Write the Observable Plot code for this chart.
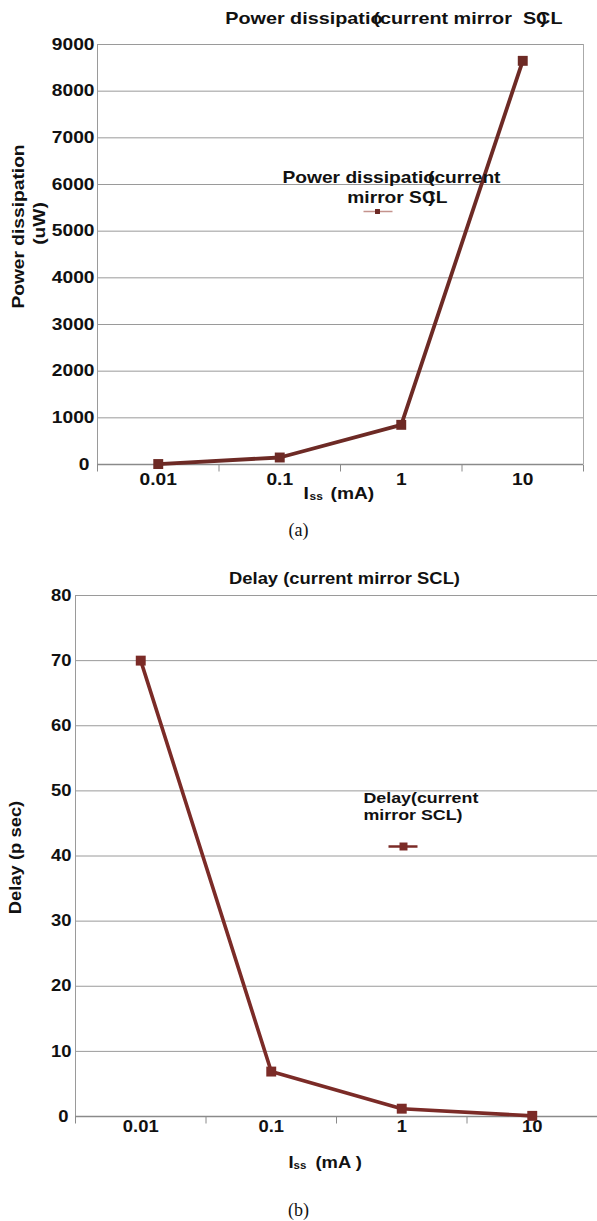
<!DOCTYPE html>
<html>
<head>
<meta charset="utf-8">
<script src="https://cdn.jsdelivr.net/npm/d3@7"></script>
<script src="https://cdn.jsdelivr.net/npm/@observablehq/plot@0.6"></script>
<style>
  html, body { margin: 0; padding: 0; background: #fff; }
  #page { position: relative; width: 597px; height: 1221px; overflow: hidden; background: #fff; }
  #page > * { position: absolute; left: 0; display: block; }
  .cap { width: 597px; height: 24px; line-height: 24px; text-align: center;
         font-family: "Liberation Serif", "Times New Roman", serif; font-size: 18px; color: #111; }
</style>
</head>
<body>
<div id="page"></div>
<script>
// Current-mirror SCL gate: power dissipation and delay versus tail current Iss.
const currents = [0.01, 0.1, 1, 10];              // Iss (mA)
const currentLabels = ["0.01", "0.1", "1", "10"];
const power = [10, 150, 850, 8650];                // power dissipation (uW)
const delay = [70, 6.9, 1.2, 0.1];                 // delay (ps)
const powerTicks = [0, 1000, 2000, 3000, 4000, 5000, 6000, 7000, 8000, 9000];
const delayTicks = [0, 10, 20, 30, 40, 50, 60, 70, 80];

// Each current value sits in the middle of its own decade-wide category slot.
const xDomain = [10 ** -2.5, 10 ** 1.5];
const slotEdges = [10 ** -2.5, 10 ** -1.5, 10 ** -0.5, 10 ** 0.5, 10 ** 1.5];

const powerRows = currents.map((c, i) => ({current: c, value: power[i]}));
const delayRows = currents.map((c, i) => ({current: c, value: delay[i]}));

// Custom dot symbols: a short downward tick and a legend dash.
const tickDown = {draw(ctx) { ctx.moveTo(0, 0); ctx.lineTo(0, 7); }};
const legendDash = {draw(ctx) { ctx.moveTo(-14.5, 0); ctx.lineTo(14.5, 0); }};

const INK = "#111";
const GRID = "#9a9a9a";

// Stretch all chart text horizontally about its anchor point.
function stretchText(svg, s) {
  d3.select(svg).selectAll("text").each(function () {
    const t = this.getAttribute("transform");
    if (t && t.includes("translate")) {
      this.setAttribute("transform", `${t} scale(${s},1)`);
    } else {
      const x = +this.getAttribute("x") || 0, y = +this.getAttribute("y") || 0;
      this.setAttribute("transform", `translate(${x},${y}) scale(${s},1) translate(${-x},${-y})`);
    }
  });
}

function chart(cfg) {
  const {top, width, height, ML, MR, MT, MB, rows, ticks, color, lineWidth, markerR} = cfg;
  const at = (x, y) => ({frameAnchor: "top-left", dx: x - ML, dy: y - top - MT});
  const T = (text, x, y, o = {}) =>
    Plot.text([text], {text: d => d, ...at(x, y), textAnchor: "middle", lineAnchor: "middle",
      fontWeight: "bold", fontSize: 16, fill: INK, ...o});
  const marks = [
    Plot.ruleY(ticks.slice(1), {stroke: GRID, strokeWidth: 1}),
    Plot.ruleX([xDomain[0]], {stroke: GRID, strokeWidth: 1}),
    ...(cfg.rightBorder ? [Plot.ruleX([xDomain[1]], {stroke: "#aaa", strokeWidth: 1})] : []),
    Plot.ruleY([0], {stroke: "#8a8a8a", strokeWidth: 1.5}),
    Plot.dot(slotEdges, {x: d => d, frameAnchor: "bottom", symbol: tickDown, fill: "none", stroke: "#8a8a8a", strokeWidth: 1}),
    // y tick labels
    Plot.text(ticks.slice(1), {y: d => d, text: d => String(d), frameAnchor: "left", textAnchor: "end",
      lineAnchor: "middle", dx: cfg.tickDx, fontWeight: "bold", fontSize: cfg.tickSize, fill: INK}),
    Plot.text([0], {y: d => d, text: d => String(d), frameAnchor: "left", textAnchor: "end",
      lineAnchor: "middle", dx: cfg.zeroDx, fontWeight: "bold", fontSize: cfg.tickSize, fill: INK}),
    // x tick labels
    Plot.text(currents, {x: d => d, text: (d, i) => currentLabels[i], frameAnchor: "bottom",
      textAnchor: "middle", lineAnchor: "middle", dy: cfg.xLabelDy, fontWeight: "bold", fontSize: cfg.tickSize, fill: INK}),
    // series
    Plot.line(rows, {x: "current", y: "value", stroke: color, strokeWidth: lineWidth, strokeLinejoin: "round"}),
    Plot.dot(rows, {x: "current", y: "value", symbol: "square", r: markerR, fill: color, stroke: "none"}),
    ...cfg.extra(T, at)
  ];
  const svg = Plot.plot({
    width, height,
    marginLeft: ML, marginRight: MR, marginTop: MT, marginBottom: MB,
    style: {fontFamily: "'Liberation Sans', Arial, sans-serif", background: "transparent", color: INK, overflow: "visible"},
    x: {type: "log", domain: xDomain, axis: null},
    y: {domain: [0, ticks[ticks.length - 1]], axis: null},
    marks
  });
  stretchText(svg, cfg.stretch);
  svg.style.top = top + "px";
  return svg;
}

const page = document.getElementById("page");

const colorA = "#6d2a25";
page.appendChild(chart({
  top: 0, width: 597, height: 515, ML: 97, MR: 14, MT: 44, MB: 51,
  rows: powerRows, ticks: powerTicks, color: colorA, lineWidth: 3.8, markerR: 5.6,
  rightBorder: true, tickDx: -3, zeroDx: -8, tickSize: 16, xLabelDy: 15, stretch: 1.2,
  extra: (T, at) => [
    // title
    T("Power dissipatio", 382, 18, {textAnchor: "end", fontSize: 16.5}),
    T("(current mirror  SCL", 562, 18, {textAnchor: "end", fontSize: 16.5}),
    T(")", 543, 18, {fontSize: 16.5}),
    // y-axis title
    T("Power dissipation", 18, 226, {rotate: -90}),
    T("(uW)", 39, 223, {rotate: -90}),
    // x-axis title
    T("I", 303, 493, {textAnchor: "start"}),
    T("ss", 309, 496, {textAnchor: "start", fontSize: 10}),
    T("(mA)", 330, 493, {textAnchor: "start"}),
    // legend
    T("Power dissipatio", 282, 177, {textAnchor: "start"}),
    T("(current", 500, 177, {textAnchor: "end"}),
    T("mirror SCL", 447, 197, {textAnchor: "end"}),
    T(")", 431, 197),
    Plot.dot([0], {...at(377.5, 211), symbol: legendDash, fill: "none", stroke: "#c4938d", strokeWidth: 1.5}),
    Plot.dot([0], {...at(377, 211), symbol: "square", r: 2.8, fill: colorA, stroke: "none"})
  ]
}));

const capA = document.createElement("div");
capA.className = "cap"; capA.style.top = "518px"; capA.textContent = "(a)";
page.appendChild(capA);

const colorB = "#7b2b27";
page.appendChild(chart({
  top: 545, width: 597, height: 650, ML: 75, MR: 0, MT: 50, MB: 79,
  rows: delayRows, ticks: delayTicks, color: colorB, lineWidth: 3.6, markerR: 5.6,
  rightBorder: false, tickDx: -4, zeroDx: -7, tickSize: 16, xLabelDy: 10, stretch: 1.15,
  extra: (T, at) => [
    T("Delay (current mirror SCL)", 344, 578),
    T("Delay (p sec)", 15, 857, {rotate: -90}),
    T("I", 288, 1162, {textAnchor: "start"}),
    T("ss", 293, 1165, {textAnchor: "start", fontSize: 10}),
    T("(mA )", 315, 1162, {textAnchor: "start"}),
    T("Delay(current", 363, 798, {textAnchor: "start", fontSize: 15.5}),
    T("mirror SCL)", 363, 815, {textAnchor: "start", fontSize: 15.5}),
    Plot.dot([0], {...at(402.5, 846), symbol: legendDash, fill: "none", stroke: colorB, strokeWidth: 2.5}),
    Plot.dot([0], {...at(403, 846), symbol: "square", r: 4.5, fill: colorB, stroke: "none"})
  ]
}));

const capB = document.createElement("div");
capB.className = "cap"; capB.style.top = "1198px"; capB.textContent = "(b)";
page.appendChild(capB);
</script>
</body>
</html>
